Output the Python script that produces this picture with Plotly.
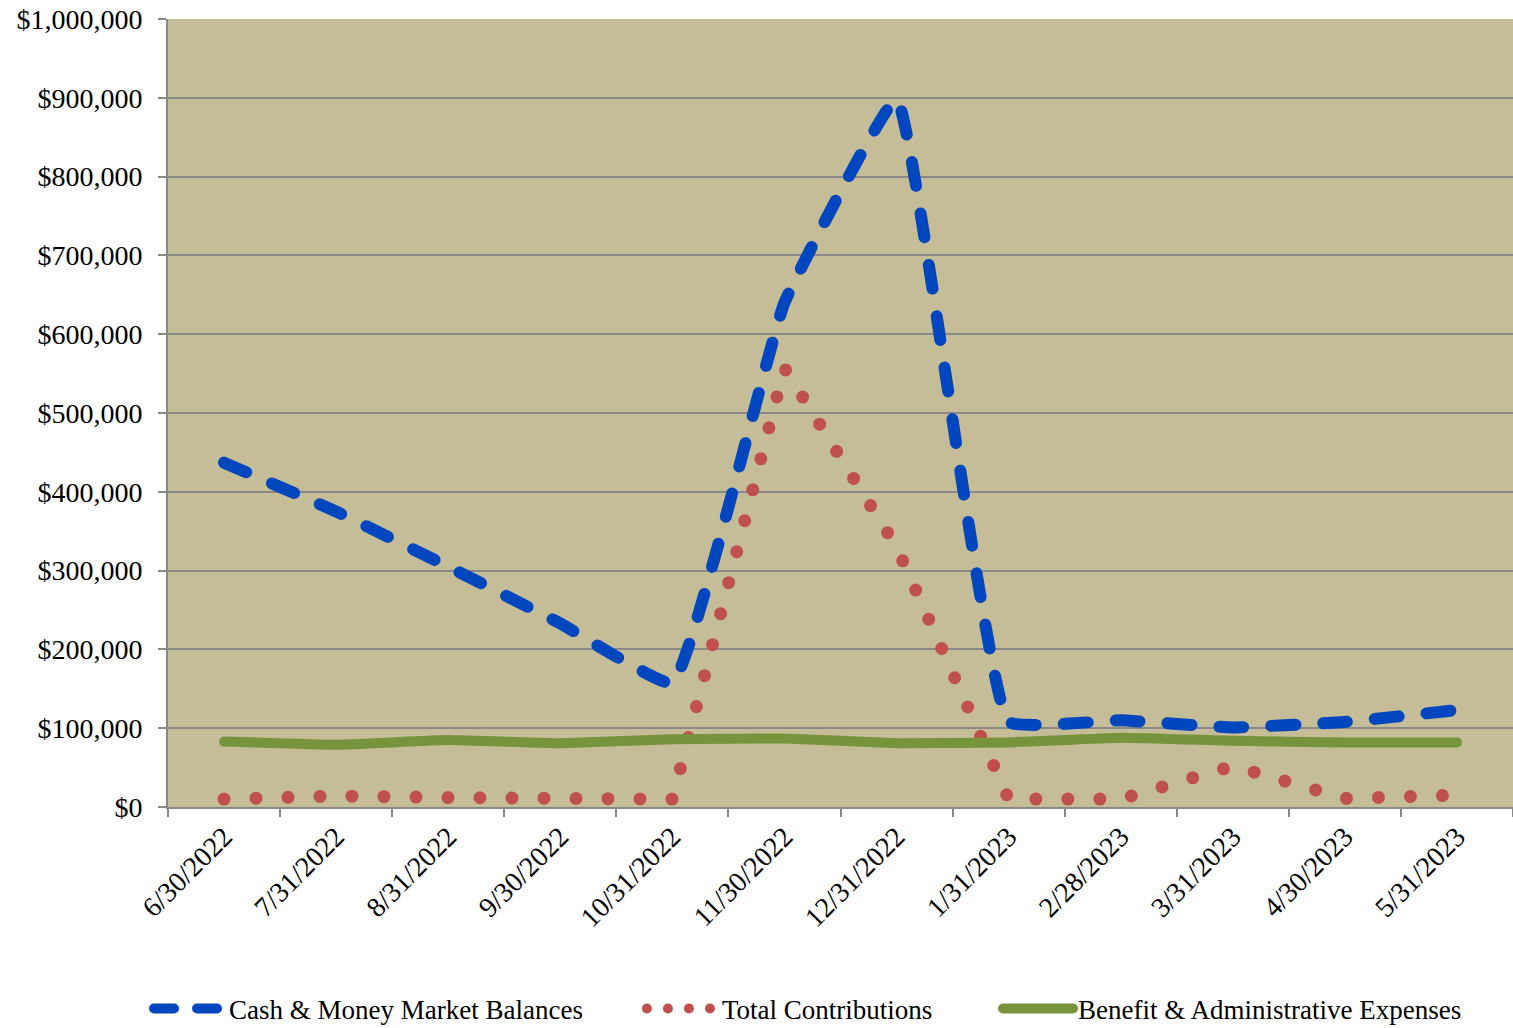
import plotly.graph_objects as go

categories = ["6/30/2022", "7/31/2022", "8/31/2022", "9/30/2022", "10/31/2022",
              "11/30/2022", "12/31/2022", "1/31/2023", "2/28/2023", "3/31/2023",
              "4/30/2023", "5/31/2023"]

cash_balances = [437000, 375000, 305000, 233000, 157000, 640000, 898000,
                 108000, 110000, 101000, 108000, 123000]
total_contributions = [10000, 14000, 12000, 10000, 10000, 557000, 330000,
                       10000, 10000, 52000, 11000, 15000]
benefit_expenses = [83000, 79000, 85000, 81000, 86000, 87000, 81000,
                    82000, 88000, 84000, 82000, 82000]

series_names = ["Cash & Money Market Balances", "Total Contributions",
                "Benefit & Administrative Expenses"]

y_tick_values = [0, 100000, 200000, 300000, 400000, 500000, 600000, 700000,
                 800000, 900000, 1000000]
y_tick_labels = ["$0", "$100,000", "$200,000", "$300,000", "$400,000", "$500,000",
                 "$600,000", "$700,000", "$800,000", "$900,000", "$1,000,000"]

FONT = "Liberation Serif, Times New Roman, serif"
GRID = "#898989"
NBSP = "\u00a0"

fig = go.Figure()
fig.add_trace(go.Scatter(
    x=categories, y=cash_balances, name=series_names[0] + NBSP * 8, mode="lines",
    line=dict(color="#0047BF", width=12, dash="24px,28px", shape="spline", smoothing=0.3),
))
fig.add_trace(go.Scatter(
    x=categories, y=total_contributions, name=series_names[1] + NBSP * 9, mode="lines",
    line=dict(color="#C0504D", width=13, dash="0px,32px"),
))
fig.add_trace(go.Scatter(
    x=categories, y=benefit_expenses, name=series_names[2], mode="lines",
    line=dict(color="#77933C", width=10, shape="spline", smoothing=0.3),
))

fig.update_layout(
    template="none",
    width=1513, height=1028,
    margin=dict(l=168, r=0, t=19, b=221, autoexpand=False),
    paper_bgcolor="white",
    plot_bgcolor="#C4BD97",
    font=dict(family=FONT, size=27, color="black"),
    showlegend=True,
    legend=dict(
        orientation="h", xref="container", yref="container",
        x=0.0985, xanchor="left", y=0.0185, yanchor="middle",
        font=dict(family=FONT, size=27, color="black"),
        itemwidth=70, bgcolor="rgba(0,0,0,0)", borderwidth=0,
        traceorder="normal",
    ),
    xaxis=dict(
        type="category", range=[-0.5, 11.5], tickson="boundaries",
        ticks="outside", ticklen=8,
        tickwidth=2, tickcolor=GRID, showline=True, linecolor=GRID, linewidth=2,
        showgrid=False, tickangle=-45, automargin=False,
        tickfont=dict(family=FONT, size=28, color="black"),
    ),
    yaxis=dict(
        range=[0, 1000000], tickvals=y_tick_values, ticktext=y_tick_labels,
        ticks="outside", ticklen=8, tickwidth=2,
        tickcolor=GRID, showline=True, linecolor=GRID, linewidth=2,
        showgrid=True, gridcolor=GRID, gridwidth=2, zeroline=False,
        automargin=False, ticklabelstandoff=10,
        tickfont=dict(family=FONT, size=28, color="black"),
    ),
)

post_js = """
document.body.style.margin = '0';
var gd = document.getElementById('{plot_id}');
var legendDash = ['20px,23px', '0px,21px', null];
function roundCaps() {
  gd.querySelectorAll('path.js-line').forEach(function (p) {
    p.style.strokeLinecap = 'round';
    p.style.strokeLinejoin = 'round';
  });
  gd.querySelectorAll('g.legend g.traces').forEach(function (g, i) {
    if (legendDash[i]) {
      g.querySelectorAll('path.js-line').forEach(function (p) {
        p.style.strokeDasharray = legendDash[i];
      });
    }
  });
}
roundCaps();
gd.on('plotly_afterplot', roundCaps);
"""

fig.write_html("out.html", post_script=post_js, config={"displayModeBar": False})
